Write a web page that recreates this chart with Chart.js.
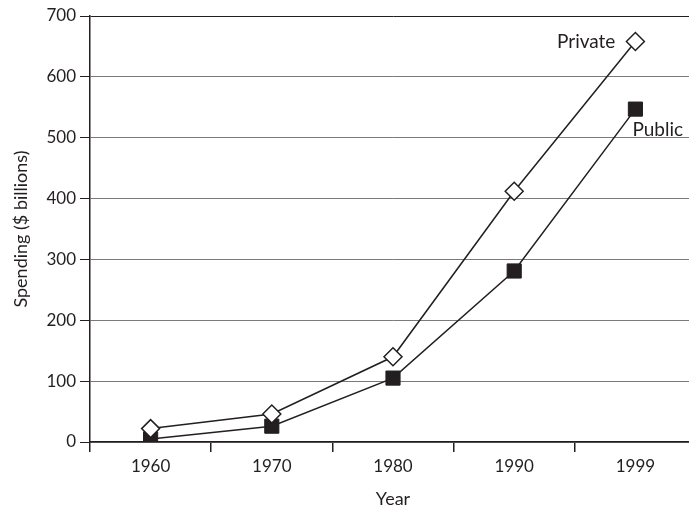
<!DOCTYPE html>
<html>
<head>
<meta charset="utf-8">
<script src="https://cdn.jsdelivr.net/npm/chart.js@4.4.0/dist/chart.umd.min.js"></script>
<style>
  html, body { margin: 0; padding: 0; background: #fff; }
  #wrap { width: 689px; height: 510px; overflow: hidden; }
  #box { width: 707px; height: 510px; }
</style>
</head>
<body>
<div id="wrap"><div id="box"><canvas id="chart"></canvas></div></div>
<script>
// Datos
const years = ['1960', '1970', '1980', '1990', '1999'];
const privateSpending = [22, 46, 140, 412, 658];
const publicSpending = [5, 26, 105, 281, 547];

const ink = '#231f20';
const font = { family: 'Lato', size: 17 };

// Etiquetas de las series junto al último punto
const seriesLabels = {
  id: 'seriesLabels',
  afterDatasetsDraw(chart) {
    const ctx = chart.ctx;
    const x = chart.scales.x;
    const y = chart.scales.y;
    const last = years.length - 1;
    ctx.save();
    ctx.fillStyle = ink;
    ctx.font = '19px Lato';
    ctx.textBaseline = 'middle';
    ctx.textAlign = 'right';
    ctx.fillText('Private', x.getPixelForValue(last) - 20, y.getPixelForValue(privateSpending[last]));
    ctx.textAlign = 'left';
    ctx.fillText('Public', x.getPixelForValue(last) - 3, y.getPixelForValue(publicSpending[last]) + 21);
    ctx.restore();
  }
};

new Chart(document.getElementById('chart'), {
  type: 'line',
  data: {
    labels: years,
    datasets: [{
      label: 'Private',
      data: privateSpending,
      borderColor: ink,
      borderWidth: 1.5,
      pointStyle: 'rectRot',
      pointRadius: 9,
      pointBackgroundColor: '#fff',
      pointBorderColor: ink,
      pointBorderWidth: 1.5
    }, {
      label: 'Public',
      data: publicSpending,
      borderColor: ink,
      borderWidth: 1.5,
      pointStyle: 'rect',
      pointRadius: 10,
      pointBackgroundColor: ink,
      pointBorderColor: ink,
      pointBorderWidth: 1
    }]
  },
  options: {
    responsive: true,
    maintainAspectRatio: false,
    animation: false,
    layout: { padding: { top: 16, left: 0, right: 0, bottom: 0 } },
    plugins: {
      legend: { display: false },
      tooltip: { enabled: false }
    },
    scales: {
      x: {
        offset: true,
        grid: { offset: true, drawOnChartArea: false, drawTicks: true, tickLength: 10, color: ink, lineWidth: 1.5 },
        border: { display: true, color: ink, width: 1.5 },
        ticks: { color: ink, font: font, padding: 4 },
        title: { display: true, text: 'Year', color: ink, font: { family: 'Lato', size: 18 }, padding: { top: 10, bottom: 0 } },
        afterFit(scale) { scale.height = 68; }
      },
      y: {
        min: 0,
        max: 700,
        ticks: { stepSize: 100, color: ink, font: font, padding: 4 },
        grid: {
          color: ctx => ctx.tick && ctx.tick.value === 700 ? ink : '#7a7a7a',
          tickColor: ink,
          lineWidth: 1,
          tickLength: 10
        },
        border: { display: true, color: ink, width: 1.5 },
        title: { display: true, text: 'Spending ($ billions)', color: ink, font: { family: 'Lato', size: 18 }, padding: { top: 10, bottom: 4 } },
        afterFit(scale) { scale.width = 90; }
      }
    }
  },
  plugins: [seriesLabels]
});
</script>
</body>
</html>
